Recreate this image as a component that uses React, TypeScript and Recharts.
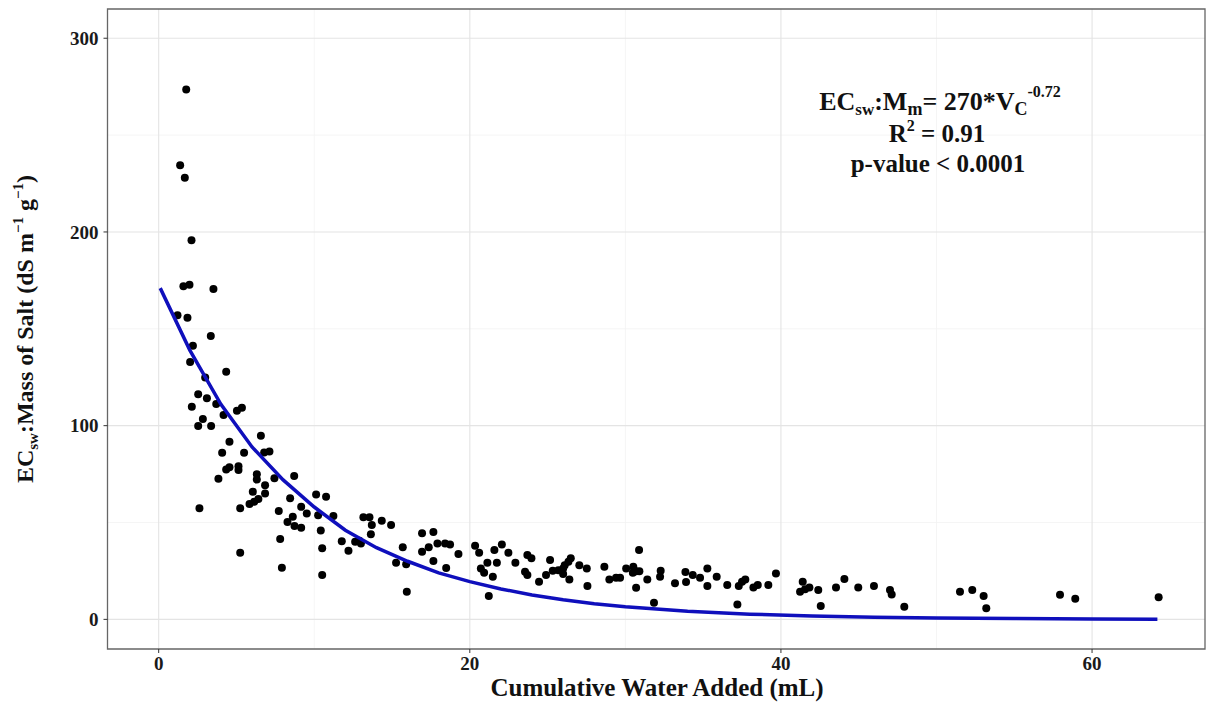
import React from "react";
import {
  ScatterChart,
  Scatter,
  XAxis,
  YAxis,
  CartesianGrid,
  ReferenceArea,
} from "recharts";

// Cumulative water added (mL) for each leachate sample
const waterAdded = [
  1.77, 1.38, 1.68, 2.11,
  1.59, 1.98, 3.52, 1.21, 1.85, 3.35, 2.2, 2.02, 4.34, 2.99, 2.54, 3.1, 3.7, 2.13, 5.03, 5.35, 4.17, 2.84, 2.54, 3.37,
  6.57, 4.55, 4.08, 5.49, 6.78, 7.12, 4.34, 4.55, 5.13, 5.13, 6.31, 7.44, 8.71, 3.84,
  2.62, 6.31, 6.84, 6.05, 6.84, 6.41, 6.14, 5.84, 5.24, 5.24, 8.45, 7.72, 8.62, 9.16, 9.52, 10.12, 10.76, 10.25, 8.28,
  8.73, 9.16, 10.42, 11.23, 7.81, 10.51, 11.77, 12.2, 7.92, 10.51,
  13.16, 13.55, 13.7, 14.34, 14.94, 13.64, 12.63, 12.9, 13.0, 15.69, 15.26, 15.91, 15.95, 16.93, 17.66, 16.93, 17.36,
  17.92, 18.41, 18.73, 17.66, 18.48, 19.27, 20.34, 20.6, 21.58, 22.06, 22.48, 21.13, 21.74, 20.71, 20.92, 21.48, 21.22,
  22.93, 23.7, 23.96, 23.55, 23.7, 24.45, 24.9, 25.16, 25.33, 25.69, 26.0, 26.1, 26.34, 26.49, 26.0, 26.4, 27.04, 27.52,
  27.56, 28.65, 28.97, 29.4, 29.66, 30.05,
  30.88, 30.51, 30.69, 30.48, 30.9, 30.69, 31.41, 31.84, 32.27, 32.23, 33.19, 33.86, 33.9, 34.33, 34.8, 35.27, 35.27,
  35.87, 36.55, 37.2, 37.29, 37.5, 37.71, 38.23, 38.51, 39.19, 39.68, 41.4, 41.23, 41.55, 41.83, 42.4, 42.56, 43.54,
  44.08, 44.97, 45.98, 47.01, 47.12, 47.93,
  51.51, 52.3, 53.03, 53.2, 57.94, 58.92, 64.28,
];

// EC_sw : mass of salt (dS m-1 g-1), same order as waterAdded
const saltRatio = [
  273.6, 234.5, 228, 195.7,
  172, 172.7, 170.5, 157, 155.7, 146.3, 141.3, 132.8, 127.8, 124.9, 116.2, 114.1, 111.2, 109.8, 107.7, 109.2, 105.5,
  103.4, 99.8, 99.8, 94.8, 91.7, 86.0, 86.0, 86.2, 86.7, 77.4, 78.5, 79.1, 77.1, 74.9, 72.9, 74.0, 72.6,
  57.3, 72.2, 69.3, 65.9, 65.0, 62.1, 60.7, 59.5, 57.3, 34.4, 62.5, 55.9, 53.0, 58.1, 54.7, 64.5, 63.3, 53.8, 50.2,
  48.2, 47.3, 45.9, 53.3, 41.5, 36.7, 40.3, 35.4, 26.6, 22.9,
  52.7, 52.7, 48.7, 50.9, 48.7, 43.9, 40.1, 40.6, 39.2, 37.2, 29.2, 28.5, 14.2, 44.4, 45.1, 34.9, 37.2,
  39.2, 39.2, 38.7, 30.1, 26.5, 33.7, 38.0, 34.4, 35.8, 38.7, 34.4, 29.2, 29.2, 26.3, 24.1, 22.0, 12.0,
  29.2, 33.2, 31.5, 24.6, 22.9, 19.4, 22.9, 30.6, 25.1, 25.4, 26.3, 28.0, 29.7, 31.5, 23.4, 20.6, 28.0, 26.3,
  17.2, 27.2, 20.6, 21.5, 21.5, 26.3,
  35.8, 27.2, 24.9, 24.1, 24.9, 16.3, 20.6, 8.6, 25.1, 22.0, 18.6, 24.4, 19.3, 22.9, 21.5, 26.3, 17.2,
  22.0, 17.7, 7.7, 17.2, 19.4, 20.6, 16.5, 17.7, 17.7, 23.7, 19.4, 14.2, 15.5, 16.5, 15.1, 6.9, 16.5,
  20.8, 16.5, 17.2, 15.1, 12.9, 6.5,
  14.2, 15.1, 12.0, 5.7, 12.7, 10.6, 11.4,
];

// fitted curve
const fitVolume = [0.1, 2, 4, 6, 8, 10, 12, 14, 16, 18, 20, 22, 24, 26, 28, 30, 34, 38, 42, 46, 50, 55, 60, 64.2];
const fitRatio = [171, 139, 111, 89, 72, 58, 46, 37, 30, 24, 19.5, 15.7, 12.6, 10.1, 8.1, 6.5, 4.2, 2.7, 1.8, 1.1, 0.7, 0.4, 0.2, 0.1];

const xTicks = [0, 20, 40, 60];
const yTicks = [0, 100, 200, 300];
const xMinor = [10, 30, 50];
const yMinor = [50, 150, 250];

const W = 1206;
const H = 702;
const X_DOMAIN: [number, number] = [-3.29, 67.26];
const Y_DOMAIN: [number, number] = [-15.3, 315.1];
const SERIF = "Liberation Serif, Times New Roman, serif";

const tickStyle = { fill: "#1a1a1a", fontSize: 19, fontWeight: 700, fontFamily: SERIF };
const textStyle = { fontFamily: SERIF, fontWeight: 700 };

const Dot = (props: any) => <circle cx={props.cx} cy={props.cy} r={4} fill="#000" />;
const NoDot = () => <g />;

export default function App() {
  const points = waterAdded.map((v, i) => ({ volume: v, ratio: saltRatio[i] }));
  const fit = fitVolume.map((v, i) => ({ volume: v, ratio: fitRatio[i] }));

  return (
    <div style={{ position: "absolute", left: 0, top: 0, width: W, height: H, background: "#fff" }}>
      <ScatterChart width={W} height={H} margin={{ top: 9, right: 1, bottom: 0, left: 0 }}>
        <CartesianGrid stroke="#f3f3f3" strokeWidth={0.8} verticalValues={xMinor} horizontalValues={yMinor} />
        <CartesianGrid stroke="#e4e4e4" strokeWidth={1.1} verticalValues={xTicks} horizontalValues={yTicks} />
        <XAxis
          type="number"
          dataKey="volume"
          domain={X_DOMAIN}
          ticks={xTicks}
          allowDataOverflow
          axisLine={false}
          tickLine={{ stroke: "#333" }}
          tickSize={4}
          tickMargin={4}
          tick={tickStyle}
          height={53}
        />
        <YAxis
          type="number"
          dataKey="ratio"
          domain={Y_DOMAIN}
          ticks={yTicks}
          allowDataOverflow
          axisLine={false}
          tickLine={{ stroke: "#333" }}
          tickSize={4}
          tickMargin={5}
          tick={tickStyle}
          width={107.5}
        />
        <Scatter data={points} fill="#000" shape={Dot} isAnimationActive={false} />
        <Scatter
          data={fit}
          fill="#0f0fbc"
          line={{ stroke: "#0f0fbc", strokeWidth: 3.5 }}
          lineType="joint"
          shape={NoDot}
          isAnimationActive={false}
        />
        <ReferenceArea
          x1={X_DOMAIN[0]}
          x2={X_DOMAIN[1]}
          y1={Y_DOMAIN[0]}
          y2={Y_DOMAIN[1]}
          fill="none"
          stroke="#666"
          strokeWidth={1.3}
        />
      </ScatterChart>

      <svg
        width={W}
        height={H}
        style={{ position: "absolute", left: 0, top: 0, pointerEvents: "none" }}
      >
        {/* axis titles */}
        <text x={657} y={696} textAnchor="middle" fontSize={25} fill="#111" style={textStyle}>
          Cumulative Water Added (mL)
        </text>
        <text
          x={33}
          y={329}
          textAnchor="middle"
          fontSize={24}
          fill="#111"
          style={textStyle}
          transform="rotate(-90 33 329)"
        >
          EC
          <tspan fontSize={15} dy={5}>sw</tspan>
          <tspan dy={-5}>:Mass of Salt (dS m</tspan>
          <tspan fontSize={15} dy={-10}>−1</tspan>
          <tspan dy={10}> g</tspan>
          <tspan fontSize={15} dy={-10}>−1</tspan>
          <tspan dy={10}>)</tspan>
        </text>

        {/* regression annotation */}
        <text x={940} y={110} textAnchor="middle" fontSize={26} fill="#111" style={textStyle}>
          EC
          <tspan fontSize={17} dy={5}>sw</tspan>
          <tspan dy={-5}>:M</tspan>
          <tspan fontSize={18} dy={5}>m</tspan>
          <tspan dy={-5}>= 270*V</tspan>
          <tspan fontSize={18} dy={5}>C</tspan>
          <tspan fontSize={16} dy={-18}>-0.72</tspan>
        </text>
        <text x={937} y={142} textAnchor="middle" fontSize={25} fill="#111" style={textStyle}>
          R<tspan fontSize={16} dy={-11}>2</tspan>
          <tspan dy={11}> = 0.91</tspan>
        </text>
        <text x={938} y={172} textAnchor="middle" fontSize={25} fill="#111" style={textStyle}>
          p-value &lt; 0.0001
        </text>
      </svg>
    </div>
  );
}
